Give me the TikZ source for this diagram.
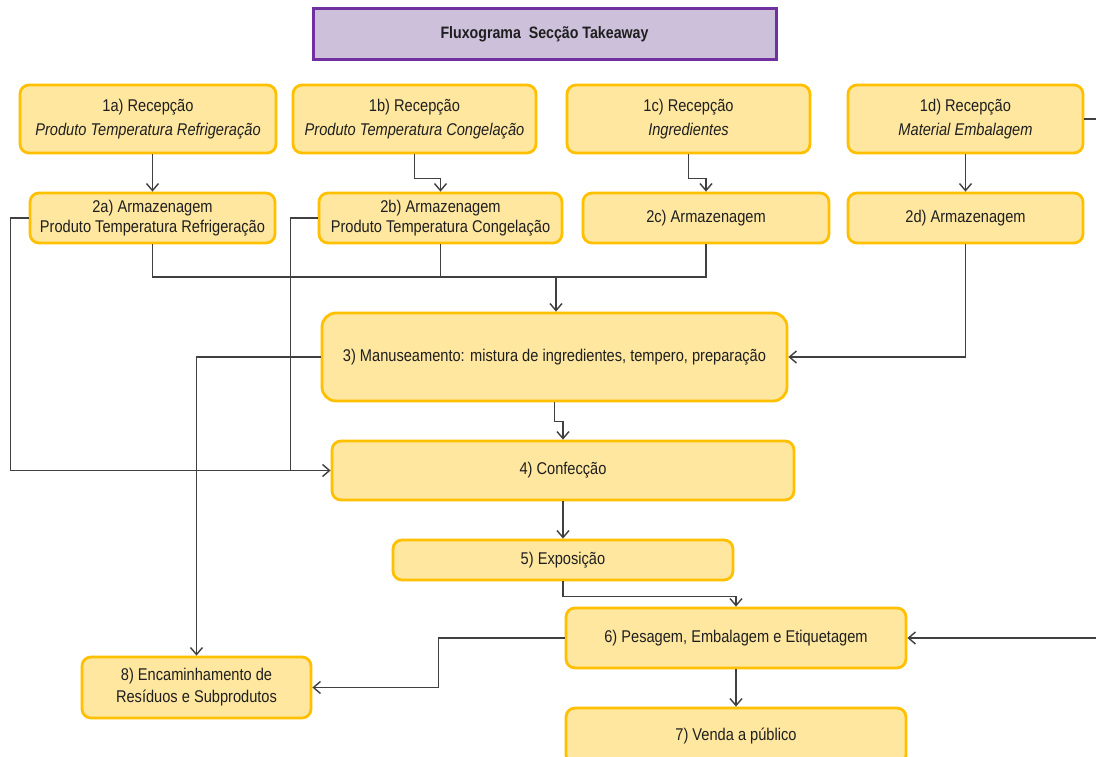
\documentclass[tikz,border=0pt]{standalone}
\usepackage{fontspec}
\setmainfont[FakeStretch=0.86]{Liberation Sans}
\usetikzlibrary{arrows.meta}
\definecolor{boxfill}{HTML}{FFE79F}
\definecolor{boxline}{HTML}{FFC000}
\definecolor{titlefill}{HTML}{CCC0DA}
\definecolor{titleline}{HTML}{7030A0}
\definecolor{wire}{HTML}{404040}
\definecolor{ink}{HTML}{1F1F1F}
\tikzset{
  stepbox/.style={draw=boxline, fill=boxfill, line width=2.8pt, rounded corners=9pt,
    align=center, text=ink, font=\fontsize{17}{24}\selectfont, inner sep=0pt},
  titlebox/.style={draw=titleline, fill=titlefill, line width=3pt,
    align=center, text=ink, font=\bfseries\fontsize{16.5}{20}\selectfont},
  wireline/.style={draw=wire, line width=1.5pt},
  conn/.style={wireline, -{Straight Barb[length=7pt,width=12pt,line width=1.4pt]}},
}
\begin{document}
\begin{tikzpicture}[x=1pt, y=-1pt]
\useasboundingbox (0,0) rectangle (1096,757);
\clip (0,0) rectangle (1096,757);
\fill[white] (0,0) rectangle (1096,757);

% title
\node[titlebox, minimum width=463pt, minimum height=51pt] (title) at (544.5,34.5) {Fluxograma \ Secção Takeaway};

% reception
\node[stepbox, minimum width=256pt, minimum height=68pt] (r1a) at (148,119)
  {1a) Recepção\\ \textit{Produto Temperatura Refrigeração}};
\node[stepbox, minimum width=243pt, minimum height=68pt] (r1b) at (414.5,119)
  {1b) Recepção\\ \textit{Produto Temperatura Congelação}};
\node[stepbox, minimum width=243pt, minimum height=68pt] (r1c) at (688.5,119)
  {1c) Recepção\\ \textit{Ingredientes}};
\node[stepbox, minimum width=235pt, minimum height=68pt] (r1d) at (965.5,119)
  {1d) Recepção\\ \textit{Material Embalagem}};

% storage
\node[stepbox, font=\fontsize{17}{20}\selectfont, minimum width=245pt, minimum height=50pt] (r2a) at (152.5,218)
  {2a) Armazenagem\\ Produto Temperatura Refrigeração};
\node[stepbox, font=\fontsize{17}{20}\selectfont, minimum width=243pt, minimum height=50pt] (r2b) at (440.5,218)
  {2b) Armazenagem\\ Produto Temperatura Congelação};
\node[stepbox, minimum width=246pt, minimum height=50pt] (r2c) at (706,218) {2c) Armazenagem};
\node[stepbox, minimum width=235pt, minimum height=50pt] (r2d) at (965.5,218) {2d) Armazenagem};

% processing
\node[stepbox, rounded corners=14pt, minimum width=465pt, minimum height=88pt] (r3) at (554.5,357)
  {3) Manuseamento: mistura de ingredientes, tempero, preparação};
\node[stepbox, minimum width=462pt, minimum height=59pt] (r4) at (563,470.5) {4) Confecção};
\node[stepbox, minimum width=340pt, minimum height=40pt] (r5) at (563,560) {5) Exposição};
\node[stepbox, minimum width=340pt, minimum height=60pt] (r6) at (736,638) {6) Pesagem, Embalagem e Etiquetagem};
\node[stepbox, minimum width=340pt, minimum height=56pt] (r7) at (736,736) {7) Venda a público};
\node[stepbox, font=\fontsize{17}{22}\selectfont, minimum width=229pt, minimum height=61pt] (r8) at (196.5,687.5)
  {8) Encaminhamento de\\ Resíduos e Subprodutos};

% reception to storage
\draw[conn] (r2a.north |- r1a.south) -- (r2a.north);
\draw[conn] (r1b.south) -- ++(0,24) -| (r2b.north);
\draw[conn] (r1c.south) -- ++(0,24) -| (r2c.north);
\draw[conn] (r1d.south) -- (r2d.north);

% storage to handling
\coordinate (m) at (556,277);
\draw[wireline] (r2a.south) -- (r2a.south |- m) -- (r2c.south |- m) -- (r2c.south);
\draw[wireline] (r2b.south) -- (r2b.south |- m);
\draw[conn] (m) -- (m |- r3.north);
\draw[conn] (r2d.south) |- (r3.east);

% storage straight to cooking
\draw[conn] (r2a.west) -- ++(-18,0) |- (r4.west);
\draw[wireline] (r2b.west) -- ++(-27,0) coordinate (t) -- (t |- r4.west);

% main line
\draw[conn] (r3.west) -| (r8.north);
\draw[conn] (r3.south) -- ++(0,19) -| (r4.north);
\draw[conn] (r4.south) -- (r5.north);
\draw[conn] (r5.south) -- ++(0,15) -| (r6.north);
\draw[conn] (r6.west) -- ++(-126,0) |- (r8.east);
\draw[conn] (r6.south) -- (r7.north);

% packaging material to weighing and packing
\draw[conn] (r1d.east) -- (1100,119) |- (r6.east);
\end{tikzpicture}
\end{document}
